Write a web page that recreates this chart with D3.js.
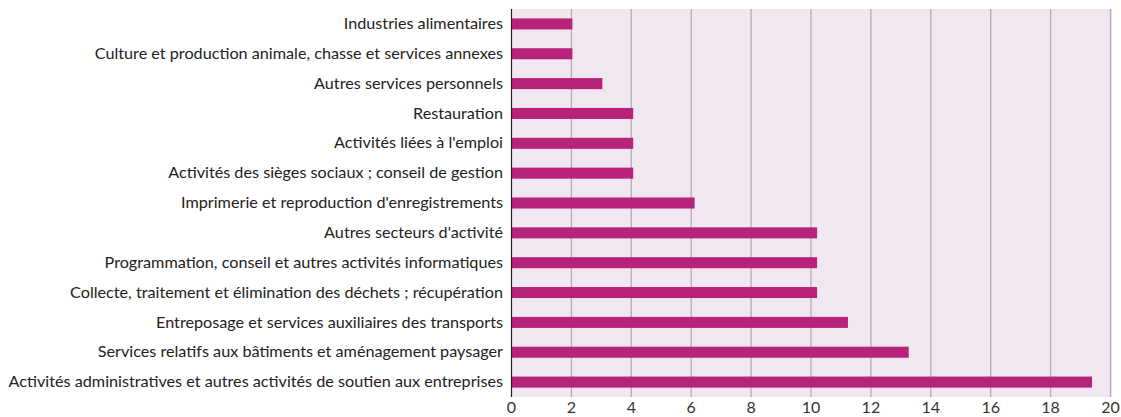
<!DOCTYPE html>
<html><head><meta charset="utf-8">
<script src="https://cdn.jsdelivr.net/npm/d3@7"></script>
<style>body{margin:0;background:#fff;} svg{display:block;}</style>
</head><body>
<svg id="chart" width="1121" height="417"></svg>
<script>
const categories = [
  "Industries alimentaires",
  "Culture et production animale, chasse et services annexes",
  "Autres services personnels",
  "Restauration",
  "Activités liées à l'emploi",
  "Activités des sièges sociaux ; conseil de gestion",
  "Imprimerie et reproduction d'enregistrements",
  "Autres secteurs d'activité",
  "Programmation, conseil et autres activités informatiques",
  "Collecte, traitement et élimination des déchets ; récupération",
  "Entreposage et services auxiliaires des transports",
  "Services relatifs aux bâtiments et aménagement paysager",
  "Activités administratives et autres activités de soutien aux entreprises"
];
const values = [2.05, 2.05, 3.05, 4.08, 4.08, 4.08, 6.13, 10.22, 10.22, 10.22, 11.25, 13.28, 19.4];
const xTicks = [0, 2, 4, 6, 8, 10, 12, 14, 16, 18, 20];

const svg = d3.select("#chart");
const plotL = 511, plotR = 1110, plotT = 9, plotB = 397;

const x = d3.scaleLinear().domain([0, 20]).range([plotL, plotR]);
const y = d3.scaleBand().domain(categories).range([plotT, plotB]).paddingInner(0.63).paddingOuter(0.315);

// plot background
svg.append("rect").attr("x", plotL).attr("y", plotT).attr("width", plotR - plotL + 2).attr("height", plotB - plotT)
  .attr("fill", "#f0e7f1");

// vertical gridlines
svg.append("g").selectAll("line").data(xTicks.filter(d => d > 0)).join("line")
  .attr("x1", d => x(d) + 0.5).attr("x2", d => x(d) + 0.5)
  .attr("y1", plotT).attr("y2", plotB)
  .attr("stroke", "#b4acb6").attr("stroke-width", 1.3);

// bars
svg.append("g").selectAll("rect").data(values).join("rect")
  .attr("x", x(0)).attr("y", (d, i) => y(categories[i]))
  .attr("width", d => x(d) - x(0)).attr("height", y.bandwidth())
  .attr("fill", "#b7237b");

// zero line
svg.append("line").attr("x1", plotL + 0.5).attr("x2", plotL + 0.5).attr("y1", plotT).attr("y2", plotB)
  .attr("stroke", "#222").attr("stroke-width", 1.2);

const xAxis = d3.axisBottom(x).tickValues(xTicks).tickSize(0).tickPadding(5);
const gx = svg.append("g").attr("transform", `translate(0,${plotB})`).call(xAxis);
gx.select(".domain").remove();
gx.selectAll("text").attr("font-family", "Lato, sans-serif").attr("font-size", 16).attr("fill", "#333");

const yAxis = d3.axisLeft(y).tickSize(0).tickPadding(8);
const gy = svg.append("g").attr("transform", `translate(${plotL},0)`).call(yAxis);
gy.select(".domain").remove();
gy.selectAll("text").attr("font-family", "Lato, sans-serif").attr("font-size", 16.2).attr("fill", "#222");
</script>
</body></html>
